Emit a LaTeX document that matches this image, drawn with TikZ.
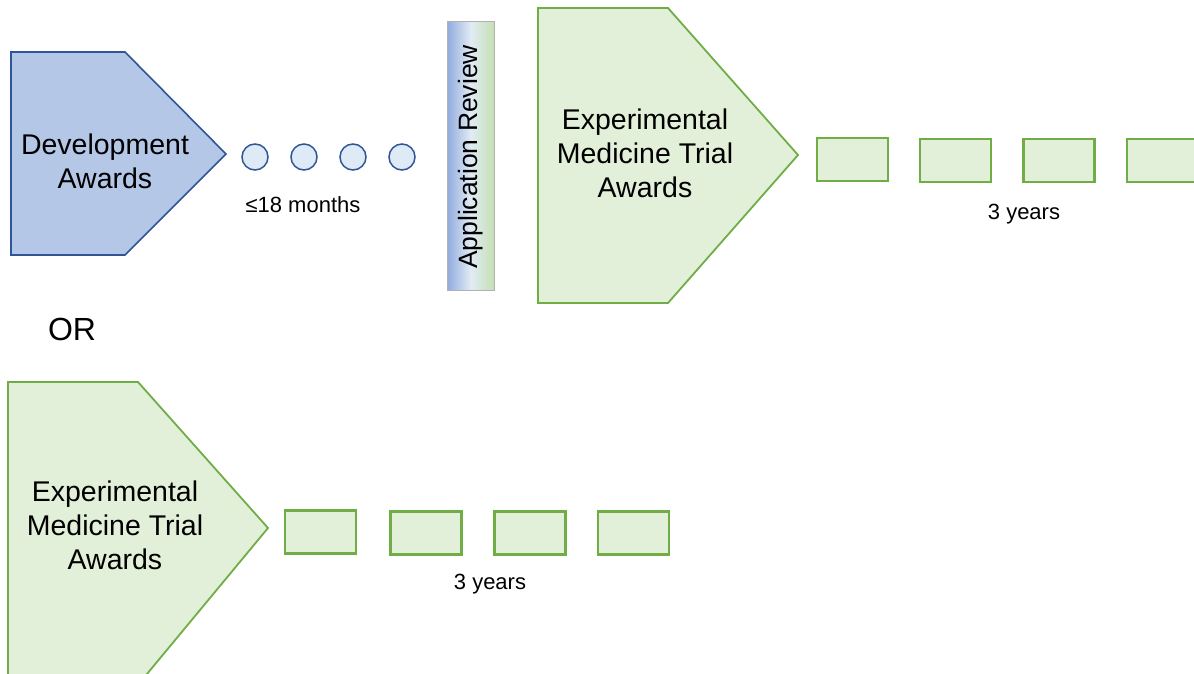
\documentclass[tikz,border=0pt]{standalone}
\usepackage{fontspec}
\setmainfont{Liberation Sans}
\definecolor{bfill}{RGB}{180,199,231}
\definecolor{bline}{RGB}{47,85,151}
\definecolor{cfill}{RGB}{222,235,247}
\definecolor{gfill}{RGB}{226,240,217}
\definecolor{gline}{RGB}{112,173,71}
\definecolor{grad1}{RGB}{143,170,220}
\definecolor{grad2}{RGB}{225,235,245}
\definecolor{grad3}{RGB}{197,224,180}
\tikzset{
  bluepent/.style={fill=bfill, draw=bline, line width=1.6pt, line join=miter},
  greenpent/.style={fill=gfill, draw=gline, line width=1.8pt, line join=miter},
  dot/.style={circle, minimum size=26pt, inner sep=0pt, fill=cfill, draw=bline, line width=1.5pt},
  gbox/.style={rectangle, minimum width=71pt, minimum height=43pt, inner sep=0pt, fill=gfill, draw=gline, line width=2.2pt},
  bigtxt/.style={align=center, font=\fontsize{28.5}{34}\selectfont},
  smalltxt/.style={font=\fontsize{22}{26}\selectfont},
}
\begin{document}
\begin{tikzpicture}[x=1pt, y=-1pt]
\useasboundingbox (0,0) rectangle (1194,674);
\clip (0,0) rectangle (1194,674);
% Development awards
\draw[bluepent] (11,52) -- (125,52) -- (226,154) -- (125,255) -- (11,255) -- cycle;
\node[bigtxt] (dev) at (105,161) {Development\\Awards};
% dots
\node[dot] (d1) at (255,157) {};
\node[dot] (d2) at (304,157) {};
\node[dot] (d3) at (353,157) {};
\node[dot] (d4) at (402,157) {};
\node[smalltxt] (m18) at (303,205) {≤18 months};
% application review bar
\shade[left color=grad1, right color=grad3, middle color=grad2, draw=gray!60, line width=1pt] (447,22) rectangle (494,290);
\node[rotate=90, font=\fontsize{26.5}{30}\selectfont] (rev) at (471,157) {Application Review};
% top green pentagon
\draw[greenpent] (538,8) -- (668,8) -- (798,155) -- (668,303) -- (538,303) -- cycle;
\node[bigtxt] (emt1) at (645,153) {Experimental\\Medicine Trial\\Awards};
\node[gbox] (t1) at (852.5,159.5) {};
\node[gbox] (t2) at (955.5,160.5) {};
\node[gbox] (t3) at (1059,160.5) {};
\node[gbox] (t4) at (1162.5,160.5) {};
\node[smalltxt] (y1) at (1024,214) {3 years};
% OR
\node[font=\fontsize{32}{36}\selectfont] (or) at (72,329) {OR};
% bottom green pentagon
\draw[greenpent] (8,382) -- (138,382) -- (268,528) -- (142,680) -- (8,680) -- cycle;
\node[bigtxt] (emt2) at (115,525) {Experimental\\Medicine Trial\\Awards};
\node[gbox] (b1) at (320.5,532) {};
\node[gbox] (b2) at (426,533) {};
\node[gbox] (b3) at (530,533) {};
\node[gbox] (b4) at (633.5,533) {};
\node[smalltxt] (y2) at (490,584) {3 years};
\end{tikzpicture}
\end{document}
